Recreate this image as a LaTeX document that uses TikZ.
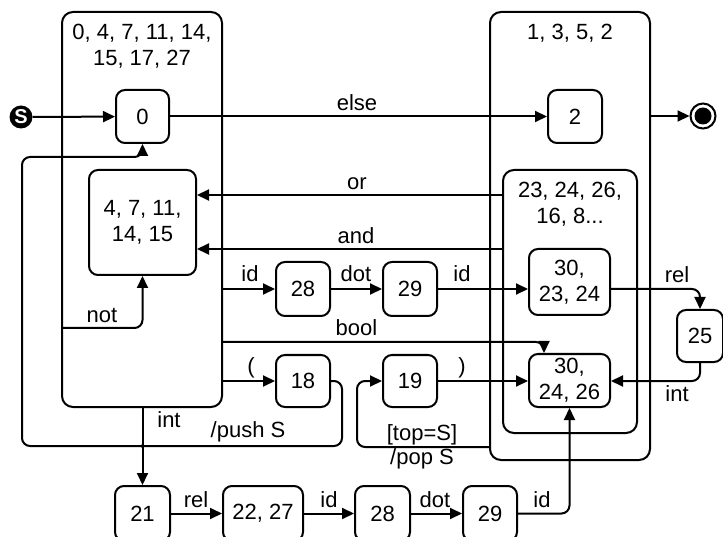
\documentclass[tikz,border=0pt]{standalone}
\usepackage{fontspec}
\setmainfont{Liberation Sans}
\usetikzlibrary{arrows.meta}
\begin{document}
\begin{tikzpicture}[x=1pt,y=-1pt,
  every node/.style={font=\fontsize{22}{26}\selectfont},
  st/.style={draw, line width=2pt, rounded corners=9pt, align=center, inner sep=0pt},
  grp/.style={draw, line width=2pt, rounded corners=11pt, inner sep=0pt},
  lbl/.style={inner sep=0pt, align=center},
  tr/.style={line width=2pt, rounded corners=8pt, -{Triangle[length=12pt,width=11pt]}},
]
\useasboundingbox (0,0) rectangle (723,537);
\clip (0,0) rectangle (723,537);

% composite states
\node[grp, minimum width=160pt, minimum height=395pt] (grpL) at (142,209.5) {};
\node[lbl] (grpLt) at (142,46) {0, 4, 7, 11, 14,\\15, 17, 27};
\node[grp, minimum width=160pt, minimum height=448pt] (grpR) at (570,236) {};
\node[lbl] (grpRt) at (570,33) {1, 3, 5, 2};
\node[grp, minimum width=134pt, minimum height=263pt] (inner) at (570,301.5) {};
\node[lbl] (innert) at (570,204) {23, 24, 26,\\16, 8...};

% start and end
\node[circle, fill=black, text=white, minimum size=23pt, inner sep=0pt,
      font=\fontsize{20}{20}\selectfont\bfseries] (S) at (21,117) {S};
\node[circle, draw, line width=2pt, minimum size=25pt, inner sep=0pt] (fin) at (703,116) {};
\node[circle, fill=black, minimum size=17pt, inner sep=0pt] (finc) at (703,116) {};

% states
\node[st, minimum width=53pt, minimum height=53pt] (n0) at (142.5,116.5) {0};
\node[st, minimum width=54pt, minimum height=53pt] (n2) at (575,116.5) {2};
\node[st, minimum width=107pt, minimum height=105pt] (nA) at (142.5,222.5) {4, 7, 11,\\14, 15};
\node[st, minimum width=54pt, minimum height=54pt] (n28a) at (303,289) {28};
\node[st, minimum width=54pt, minimum height=54pt] (n29a) at (410,289) {29};
\node[st, minimum width=81pt, minimum height=66pt] (n302324) at (569.5,282) {30,\\23, 24};
\node[st, minimum width=81pt, minimum height=53pt] (n302426) at (569.5,380.5) {30,\\24, 26};
\node[st, minimum width=46pt, minimum height=52pt] (n25) at (700,336) {25};
\node[st, minimum width=54pt, minimum height=52pt] (n18) at (303,381) {18};
\node[st, minimum width=54pt, minimum height=52pt] (n19) at (410,381) {19};
\node[st, minimum width=55pt, minimum height=55pt] (n21) at (142.5,513.5) {21};
\node[st, minimum width=80pt, minimum height=55pt] (n2227) at (263,513.5) {22, 27};
\node[st, minimum width=55pt, minimum height=55pt] (n28b) at (382.5,513.5) {28};
\node[st, minimum width=54pt, minimum height=55pt] (n29b) at (490,513.5) {29};

% transitions
\draw[tr] (S) -- (n0);
\draw[tr] (n0) -- (n2);
\draw[tr] (grpR.east |- fin) -- (fin);
\draw[tr] (inner.west |- 0,195) -- (nA.east |- 0,195);
\draw[tr] (inner.west |- 0,249) -- (nA.east |- 0,249);
\draw[tr] (grpL.west |- 0,328) -- (nA.south |- 0,328) -- (nA.south);
\draw[tr] (grpL.east |- n28a) -- (n28a);
\draw[tr] (n28a) -- (n29a);
\draw[tr] (n29a) -- (n302324.west |- n29a);
\draw[tr] (grpL.east |- 0,342) -- (544,342) -- (n302426.north -| 544,0);
\draw[tr] (grpL.east |- n18) -- (n18);
\draw[tr] (n18.east) -- (342,381) -- (342,446) -- (150,446)
  .. controls (145,446) and (142.5,444) .. (142.5,439.5)
  .. controls (142.5,444) and (140,446) .. (135,446)
  -- (22,446) -- (22,157) -- (n0.south |- 0,157) -- (n0.south);
\draw[tr] (grpR.west |- 0,447) -- (357,447) -- (357,381) -- (n19.west);
\draw[tr] (n19) -- (n302426.west |- n19);
\draw[tr] (n302324.east |- n29a) -- (n25.north |- n29a) -- (n25.north);
\draw[tr] (n25.south) -- (n25.south |- n19) -- (n302426.east |- n19);
\draw[tr] (grpL.south -| n21) -- (n21.north);
\draw[tr] (n21) -- (n2227);
\draw[tr] (n2227) -- (n28b);
\draw[tr] (n28b) -- (n29b);
\draw[tr] (n29b.east) -- (n29b.east -| n302426.south) -- (n302426.south);

% transition labels
\node[lbl] (lelse) at (357,103) {else};
\node[lbl] (lor) at (357,184) {or};
\node[lbl] (land) at (356,236) {and};
\node[lbl] (lnot) at (102,315) {not};
\node[lbl] (lid1) at (250,274) {id};
\node[lbl] (ldot1) at (356,274) {dot};
\node[lbl] (lid2) at (462,274) {id};
\node[lbl] (lbool) at (356.5,328) {bool};
\node[lbl] (lopen) at (251,368) {(};
\node[lbl] (lclose) at (462,368) {)};
\node[lbl] (lpush) at (248,432) {/push S};
\node[lbl] (ltop) at (422,435) {[top=S]};
\node[lbl] (lpop) at (422,459) {/pop S};
\node[lbl] (lrel1) at (677,275) {rel};
\node[lbl] (lint1) at (677,394) {int};
\node[lbl] (lint2) at (169,420) {int};
\node[lbl] (lrel2) at (196,500) {rel};
\node[lbl] (lid3) at (329,500) {id};
\node[lbl] (ldot2) at (435,500) {dot};
\node[lbl] (lid4) at (542,500) {id};
\end{tikzpicture}
\end{document}
